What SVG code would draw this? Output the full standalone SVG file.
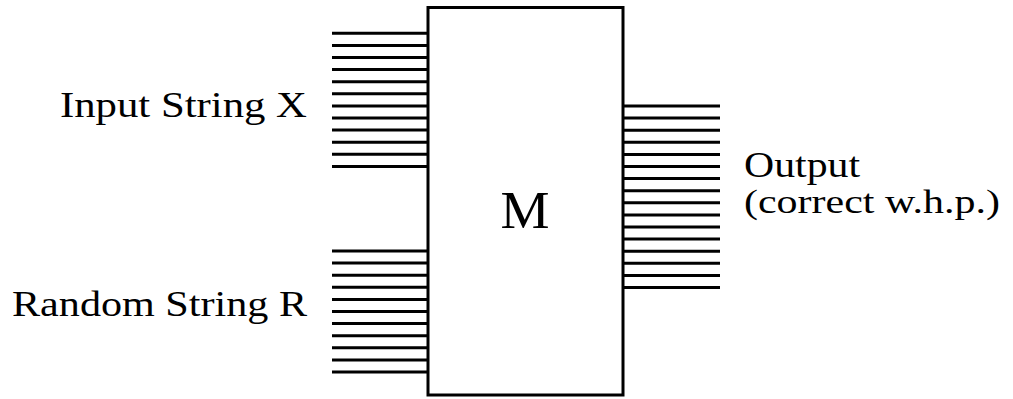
<svg xmlns="http://www.w3.org/2000/svg" width="1013" height="399" viewBox="0 0 1013 399">
<style>
.w{stroke:#000;stroke-width:3;fill:none}
.t{font-family:"Liberation Serif","DejaVu Serif",serif;font-size:36px;fill:#000}
.big{font-size:52px}
.sm{font-size:34px}
</style>
<rect width="1013" height="399" fill="#fff"/>
<g id="connectors">
<path class="w" d="M332 33.3H428M332 45.4H428M332 57.5H428M332 69.6H428M332 81.7H428M332 93.8H428M332 105.9H428M332 118H428M332 130.1H428M332 142.2H428M332 154.3H428M332 166.4H428"/>
<path class="w" d="M332 251H428M332 263.1H428M332 275.2H428M332 287.3H428M332 299.4H428M332 311.5H428M332 323.6H428M332 335.7H428M332 347.8H428M332 359.9H428M332 372H428"/>
<path class="w" d="M623 106H720M623 118.1H720M623 130.2H720M623 142.3H720M623 154.4H720M623 166.5H720M623 178.6H720M623 190.7H720M623 202.8H720M623 214.9H720M623 227H720M623 239.1H720M623 251.2H720M623 263.3H720M623 275.4H720M623 287.5H720"/>
</g>
<g id="M">
<rect class="w" x="428" y="7.5" width="195" height="387.5"/>
<text class="t big" x="525" y="228" text-anchor="middle" textLength="49" lengthAdjust="spacingAndGlyphs">M</text>
</g>
<g id="input">
<text class="t" x="60" y="117" textLength="247" lengthAdjust="spacingAndGlyphs">Input String X</text>
</g>
<g id="random">
<text class="t" x="12" y="316" textLength="295" lengthAdjust="spacingAndGlyphs">Random String R</text>
</g>
<g id="output">
<text class="t" x="744" y="177" textLength="116" lengthAdjust="spacingAndGlyphs">Output</text>
<text class="t sm" x="744" y="213" textLength="256" lengthAdjust="spacingAndGlyphs">(correct w.h.p.)</text>
</g>
</svg>
